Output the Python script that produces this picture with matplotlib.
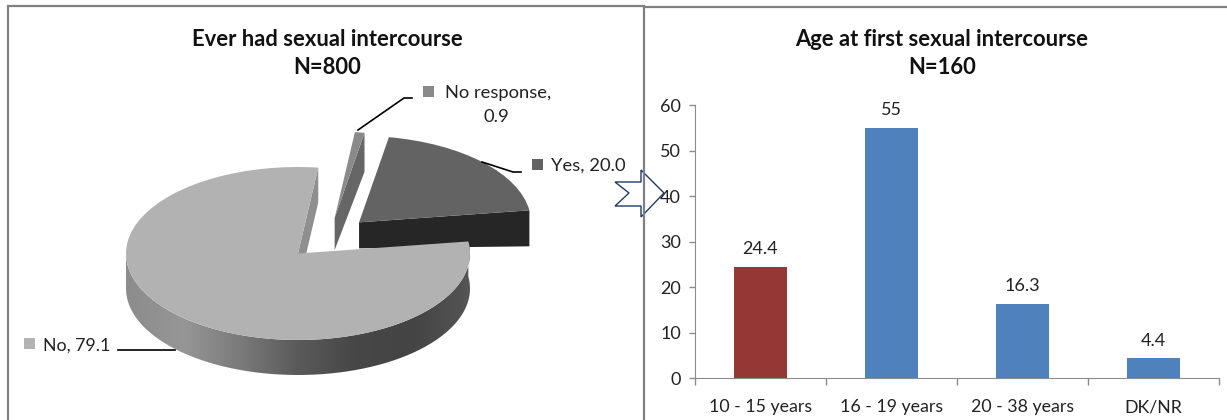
import numpy as np
import matplotlib
matplotlib.use("Agg")
import matplotlib.pyplot as plt
from matplotlib.patches import Polygon, PathPatch, Rectangle
from matplotlib.path import Path
from matplotlib.colors import LinearSegmentedColormap

plt.rcParams['font.family'] = ['Lato', 'DejaVu Sans']

# pie data
pie_names = ["Yes", "No", "No response"]
pie_values = [20.0, 79.1, 0.9]
pie_colors = ["#636363", "#b2b2b2", "#8a8a8a"]

# bar data
age_groups = ["10 - 15 years", "16 - 19 years", "20 - 38 years", "DK/NR"]
age_values = [24.4, 55, 16.3, 4.4]
age_labels = ["24.4", "55", "16.3", "4.4"]
bar_colors = ["#953735", "#4f81bd", "#4f81bd", "#4f81bd"]
y_ticks = [0, 10, 20, 30, 40, 50, 60]

W, H = 1227, 420
fig = plt.figure(figsize=(W / 100, H / 100), dpi=100, facecolor="white")

# pie axes: one data unit is the pie radius, squashed to look tilted
cx, cy, rx, ry = 298, 253.5, 172, 86.5
ax_pie = fig.add_axes([0, 0, 1, 1], facecolor="none")
wedges, _ = ax_pie.pie(pie_values, colors=pie_colors, startangle=80, counterclock=False, radius=1)


def side_face(theta, center, d_apex, d_rim, color, z):
    # flat cut face of a slice, pushed down from the top surface
    t = np.radians(theta)
    ox, oy = center[0] + np.cos(t), center[1] + np.sin(t)
    pts = [(center[0], center[1]), (ox, oy), (ox, oy - d_rim / ry), (center[0], center[1] - d_apex / ry)]
    ax_pie.add_patch(Polygon(pts, closed=True, fc=color, ec="none", zorder=z))


yes, no, resp = wedges
resp_center = (0.213, 0.41)
yes_center = (0.355, 0.36)
resp.set_center(resp_center)
yes.set_center(yes_center)
resp.set_zorder(2)
yes.set_zorder(4)
no.set_zorder(7)

side_face(resp.theta1, resp_center, 32, 39, "#666666", 1)
side_face(yes.theta1, yes_center, 26, 36, "#262626", 3)
side_face(no.theta1, (0, 0), 35, 35, "#8f8f8f", 5)

# outer rim of the big slice with a horizontal gradient
t = np.radians(np.linspace(-180, no.theta2, 200))
drop = 35 / ry
rim = np.vstack([np.column_stack([np.cos(t), np.sin(t)]),
                 np.column_stack([np.cos(t[::-1]), np.sin(t[::-1]) - drop])])
rim_patch = PathPatch(Path(np.vstack([rim, rim[0]])), fc="none", ec="none", transform=ax_pie.transData)
ax_pie.add_patch(rim_patch)
cmap = LinearSegmentedColormap.from_list("rim", ["#8c8c8c", "#969696", "#7a7a7a", "#5a5a5a", "#474747", "#444444", "#555555"])
im = ax_pie.imshow(np.linspace(0, 1, 256).reshape(1, -1), cmap=cmap, extent=(-1, 1, -1.6, 0.3),
                   aspect="auto", zorder=6)
im.set_clip_path(rim_patch)

ax_pie.set_aspect("auto")
ax_pie.set_xlim(-cx / rx, (W - cx) / rx)
ax_pie.set_ylim(-(H - cy) / ry, cy / ry)
ax_pie.axis("off")

# bars
left, right, top, bottom = 695, 1219, 105, 378.3
ax = fig.add_axes([left / W, 1 - bottom / H, (right - left) / W, (bottom - top) / H], facecolor="none")
x = np.arange(len(age_groups))
bars = ax.bar(x, age_values, width=0.4, color=bar_colors)
ax.bar_label(bars, labels=age_labels, padding=7, fontsize=13, color="#222222")
ax.set_xlim(-0.5, 3.5)
ax.set_ylim(0, 60)
ax.set_yticks(y_ticks)
ax.set_xticks(x)
ax.set_xticklabels(age_groups)
ax.set_xticks(np.arange(-0.5, 4, 1), minor=True)
ax.tick_params(axis="x", which="major", length=0, pad=15, labelsize=12.8, labelcolor="#222222")
ax.tick_params(axis="x", which="minor", length=5, width=1, color="#8c8c8c")
ax.tick_params(axis="y", length=4, width=1, color="#8c8c8c", pad=6, labelsize=13, labelcolor="#222222")
for s in ["top", "right"]:
    ax.spines[s].set_visible(False)
for s in ["left", "bottom"]:
    ax.spines[s].set_color("#8c8c8c")

# overlay in pixel coordinates: frames, titles, legend-style labels, arrow
ov = fig.add_axes([0, 0, 1, 1], facecolor="none")
ov.set_xlim(0, W)
ov.set_ylim(H, 0)
ov.axis("off")
ov.plot([8, 8, 644, 644], [H, 6, 6, H], color="#808080", lw=1.6, solid_joinstyle="miter")
ov.plot([644, W], [7, 7], color="#808080", lw=1.6)

ov.text(327, 39, "Ever had sexual intercourse", ha="center", va="center", fontsize=15.8, fontweight="bold", color="#111111")
ov.text(327, 67, "N=800", ha="center", va="center", fontsize=15.8, fontweight="bold", color="#111111")
ov.text(942, 40, "Age at first sexual intercourse", ha="center", va="center", fontsize=15.8, fontweight="bold", color="#111111")
ov.text(942, 68, "N=160", ha="center", va="center", fontsize=15.8, fontweight="bold", color="#111111")

ov.plot([358, 404, 412], [130, 98, 98], color="black", lw=1.2)
ov.plot([482, 513, 521], [162, 172, 172], color="black", lw=1.2)
ov.plot([118, 175], [350, 350], color="black", lw=1.2)

ov.add_patch(Rectangle((423, 86), 10.5, 10.5, fc=pie_colors[2], ec="none"))
ov.text(445, 93, "%s," % pie_names[2], va="center", fontsize=13.2, color="#222222")
ov.text(496, 117, "%.1f" % pie_values[2], ha="center", va="center", fontsize=13.2, color="#222222")
ov.add_patch(Rectangle((532, 159), 10.5, 10.5, fc=pie_colors[0], ec="none"))
ov.text(551, 166, "%s, %.1f" % (pie_names[0], pie_values[0]), va="center", fontsize=13.2, color="#222222")
ov.add_patch(Rectangle((24, 338), 10.5, 10.5, fc=pie_colors[1], ec="none"))
ov.text(43, 346, "%s, %.1f" % (pie_names[1], pie_values[1]), va="center", fontsize=12.8, color="#222222")

arrow = [(615, 182), (641, 182), (641, 170), (664, 193), (641, 217), (641, 206), (615, 206), (629, 193)]
ov.add_patch(Polygon(arrow, closed=True, fill=False, ec="#1f3b63", lw=1.0))

fig.savefig("out.png", dpi=100)
